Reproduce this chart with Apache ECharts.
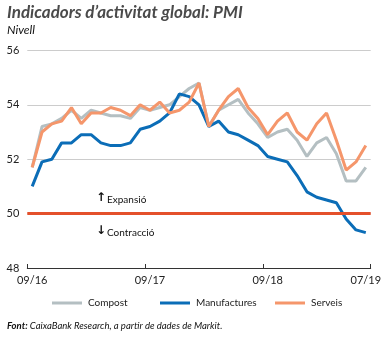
<!DOCTYPE html>
<html><head><meta charset="utf-8">
<script src="https://cdn.jsdelivr.net/npm/echarts@6/dist/echarts.min.js"></script>
<style>html,body{margin:0;padding:0;background:#fff}#c{width:391px;height:338px}</style>
</head><body><div id="c"></div>
<script>
const categories = ["09/16","10/16","11/16","12/16","01/17","02/17","03/17","04/17","05/17","06/17","07/17","08/17",
"09/17","10/17","11/17","12/17","01/18","02/18","03/18","04/18","05/18","06/18","07/18","08/18",
"09/18","10/18","11/18","12/18","01/19","02/19","03/19","04/19","05/19","06/19","07/19"];
const compost = [51.7,53.2,53.3,53.5,53.8,53.5,53.8,53.7,53.6,53.6,53.5,53.9,53.8,53.9,54.0,54.3,54.6,54.8,53.2,53.8,54.0,54.2,53.7,53.3,52.8,53.0,53.1,52.7,52.1,52.6,52.8,52.2,51.2,51.2,51.7];
const manufactures = [51.0,51.9,52.0,52.6,52.6,52.9,52.9,52.6,52.5,52.5,52.6,53.1,53.2,53.4,53.7,54.4,54.3,54.0,53.2,53.4,53.0,52.9,52.7,52.5,52.1,52.0,51.9,51.4,50.8,50.6,50.5,50.4,49.8,49.4,49.3];
const serveis = [51.7,53.0,53.3,53.4,53.9,53.3,53.7,53.7,53.9,53.8,53.6,54.0,53.8,54.1,53.7,53.8,54.1,54.8,53.2,53.8,54.3,54.6,53.9,53.5,52.9,53.4,53.7,53.0,52.7,53.3,53.7,52.7,51.6,51.9,52.5];
const yTicks = [48,50,52,54,56];
const threshold = 50;
const labelIdx = [0,12,24,34];

const FONT = 'Lato, "Noto Sans", sans-serif';
const chart = echarts.init(document.getElementById('c'), null, {renderer:'canvas'});
function legendAt(name, left){
  return {data:[{name:name, icon:'rect'}], left:left, top:298, itemWidth:30, itemHeight:3,
    textStyle:{fontFamily:FONT, fontSize:10, color:'#222', padding:[0,0,0,1]}, padding:0, itemGap:0};
}
chart.setOption({
  animation:false,
  grid:{left:27.3, right:20.3, top:50.4, bottom:70, containLabel:false},
  xAxis:{type:'category', data:categories, boundaryGap:true,
    axisLine:{show:true, lineStyle:{color:'#333', width:1}},
    axisTick:{show:true, inside:true, length:4, lineStyle:{color:'#333'}, interval:(i)=> i%12===0},
    axisLabel:{interval:(i)=> labelIdx.includes(i), fontFamily:FONT, fontSize:11, color:'#222', margin:7},
    splitLine:{show:false}},
  yAxis:{type:'value', min:yTicks[0], max:yTicks[yTicks.length-1], interval:2,
    axisLine:{show:false}, axisTick:{show:false},
    axisLabel:{fontFamily:FONT, fontSize:11, color:'#222', margin:8},
    splitLine:{show:true, lineStyle:{color:'#cccccc', width:1}}},
  legend:[legendAt('Compost',52), legendAt('Manufactures',160), legendAt('Serveis',275)],
  series:[
    {name:'Compost', type:'line', z:2, data:compost, symbol:'none', lineStyle:{color:'#b4bfc2', width:3}, itemStyle:{color:'#b4bfc2'},
     markLine:{silent:true, symbol:'none', label:{show:false}, lineStyle:{color:'#e4502b', width:3, type:'solid'}, data:[{yAxis:threshold}]}},
    {name:'Manufactures', type:'line', z:3, data:manufactures, symbol:'none', lineStyle:{color:'#0b6db7', width:3}, itemStyle:{color:'#0b6db7'}},
    {name:'Serveis', type:'line', z:4, data:serveis, symbol:'none', lineStyle:{color:'#f5966b', width:3}, itemStyle:{color:'#f5966b'}}
  ],
  graphic:[
    {type:'text', left:7, top:4, style:{text:'Indicadors d’activitat global: PMI', fontFamily:FONT, fontSize:17, fontWeight:'bold', fontStyle:'italic', fill:'#4a4a4a'}},
    {type:'text', left:7, top:24, style:{text:'Nivell', fontFamily:FONT, fontSize:12, fontStyle:'italic', fill:'#111'}},
    {type:'text', left:96, top:192, style:{text:'↑', fontFamily:'DejaVu Sans', fontSize:12, fontWeight:'bold', fill:'#111'}},
    {type:'text', left:107, top:195, style:{text:'Expansió', fontFamily:FONT, fontSize:10, fill:'#111'}},
    {type:'text', left:96, top:225, style:{text:'↓', fontFamily:'DejaVu Sans', fontSize:12, fontWeight:'bold', fill:'#111'}},
    {type:'text', left:107, top:228, style:{text:'Contracció', fontFamily:FONT, fontSize:10, fill:'#111'}},
    {type:'text', left:7, top:321, style:{text:'{b|Font:} CaixaBank Research, a partir de dades de Markit.', fontFamily:FONT, fontSize:9.5, fontStyle:'italic', fill:'#111',
      rich:{b:{fontFamily:FONT, fontSize:9.5, fontStyle:'italic', fontWeight:'bold', fill:'#111'}}}}
  ]
});
</script></body></html>
